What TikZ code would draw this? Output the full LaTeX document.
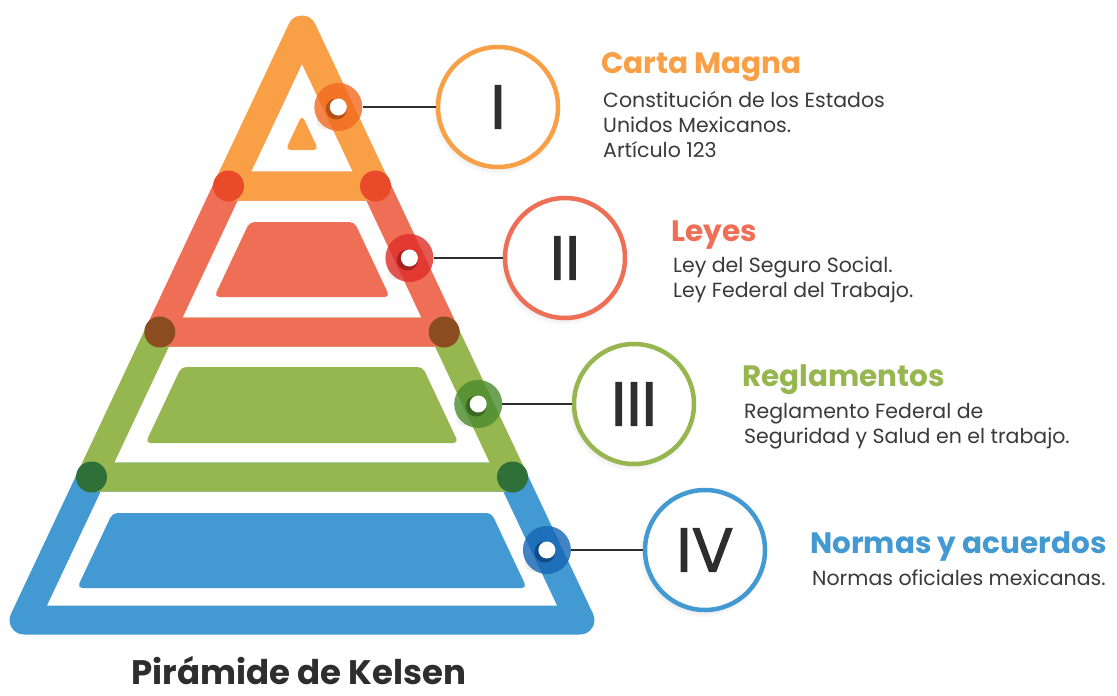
\documentclass[tikz,border=0pt]{standalone}
\usepackage{fontspec}
\setmainfont{Poppins}
\newfontfamily\romano{Poppins}[FakeBold=1.6]
\usetikzlibrary{positioning,shadows}

\definecolor{naranja}{HTML}{F9A046}
\definecolor{rojo}{HTML}{EE6E56}
\definecolor{verde}{HTML}{96B64F}
\definecolor{azul}{HTML}{4399D1}
\definecolor{naranjaM}{HTML}{F26A1F}
\definecolor{rojoM}{HTML}{DF2E28}
\definecolor{verdeM}{HTML}{4A8B2C}
\definecolor{azulM}{HTML}{1565B4}
\definecolor{unionA}{HTML}{E84A2A}
\definecolor{unionB}{HTML}{8B4C1F}
\definecolor{unionC}{HTML}{2F7039}
\definecolor{tinta}{HTML}{2E2E2E}
\definecolor{gris}{HTML}{3A3A3A}

\begin{document}
\begin{tikzpicture}[x=1pt,y=-1pt,
    banda/.style={draw=#1,line width=29pt,line join=round},
    losa/.style={fill=#1,rounded corners=5pt},
    union/.style={circle,fill=#1,inner sep=0pt,minimum size=31pt},
    marca/.style={circle,fill=#1,fill opacity=.8,inner sep=0pt,minimum size=48pt},
    nivel/.style={circle,draw=#1,line width=4.5pt,fill=white,inner sep=0pt,
      minimum size=120pt,text=tinta,font=\romano\fontsize{62}{62}\selectfont,
      circular drop shadow={shadow scale=1.07,shadow xshift=-2pt,shadow yshift=-3pt,opacity=.2}},
    conector/.style={draw=tinta,line width=2.5pt},
    cabeza/.style={anchor=base west,inner sep=0pt,text=#1,font=\bfseries\fontsize{29.5}{30}\selectfont},
    texto/.style={anchor=north west,inner sep=0pt,text=gris,align=left,font=\fontsize{20.5}{25}\selectfont}
  ]
  \fill[white] (0,0) rectangle (1117,696);
  \useasboundingbox (0,0) rectangle (1117,696);

  % bands, bottom first
  \draw[banda=azul] (91.5,477) -- (24.1,620) -- (579.9,620) -- (512.5,477) -- cycle;
  \draw[banda=verde] (159.8,332) -- (91.5,477) -- (512.5,477) -- (444.2,332) -- cycle;
  \draw[banda=rojo] (228.5,186) -- (159.8,332) -- (444.2,332) -- (375.5,186) -- cycle;
  \draw[banda=naranja] (302,30) -- (228.5,186) -- (375.5,186) -- cycle;

  % inner slabs
  \fill[losa=naranja] (302,115) -- (285.5,150) -- (318.5,150) -- cycle;
  \fill[losa=rojo] (249.6,222) -- (214.2,297) -- (389.8,297) -- (354.4,222) -- cycle;
  \fill[losa=verde] (181.3,367) -- (145.5,443) -- (458.5,443) -- (422.7,367) -- cycle;
  \fill[losa=azul] (112.5,513) -- (77.2,588) -- (526.8,588) -- (491.5,513) -- cycle;

  % joints
  \node[union=unionA] (ja1) at (228.5,186) {};
  \node[union=unionA] (ja2) at (375.5,186) {};
  \node[union=unionB] (jb1) at (159.8,332) {};
  \node[union=unionB] (jb2) at (444.2,332) {};
  \node[union=unionC] (jc1) at (91.5,477) {};
  \node[union=unionC] (jc2) at (512.5,477) {};

  % markers on the right edge
  \foreach \x/\y/\c/\k in {338.3/107/naranjaM/1,409.4/258/rojoM/2,478.2/404/verdeM/3,546.9/550/azulM/4}{
    \draw[black!50,opacity=.12,line width=16pt,line cap=round] (\x,\y) -- ++(-14,14);
    \node[marca=\c] (m\k) at (\x,\y) {};
    \fill[\c!75!black] (\x-2,\y+2) circle (10.5);
    \fill[white] (\x,\y) circle (8.5);
  }

  % level circles
  \node[nivel=naranja] (c1) at (498,107) {I};
  \node[nivel=rojo] (c2) at (565,258) {II};
  \node[nivel=verde] (c3) at (634,404) {III};
  \node[nivel=azul] (c4) at (705,550) {IV};

  \draw[conector] (m1) -- (c1);
  \draw[conector] (m2) -- (c2);
  \draw[conector] (m3) -- (c3);
  \draw[conector] (m4) -- (c4);

  % texts
  \node[cabeza=naranja] (h1) at (601,73) {Carta Magna};
  \node[texto] (t1) at (603,91) {Constitución de los Estados\\Unidos Mexicanos.\\Artículo 123};
  \node[cabeza=rojo] (h2) at (671,241) {Leyes};
  \node[texto] (t2) at (673,257) {Ley del Seguro Social.\\Ley Federal del Trabajo.};
  \node[cabeza=verde] (h3) at (742,386) {Reglamentos};
  \node[texto] (t3) at (744,403) {Reglamento Federal de\\Seguridad y Salud en el trabajo.};
  \node[cabeza=azul] (h4) at (810,553) {Normas y acuerdos};
  \node[texto] (t4) at (812,570) {Normas oficiales mexicanas.};

  \node[anchor=base,inner sep=0pt,text=tinta,font=\bfseries\fontsize{34}{34}\selectfont] (titulo) at (299,684) {Pirámide de Kelsen};
\end{tikzpicture}
\end{document}
